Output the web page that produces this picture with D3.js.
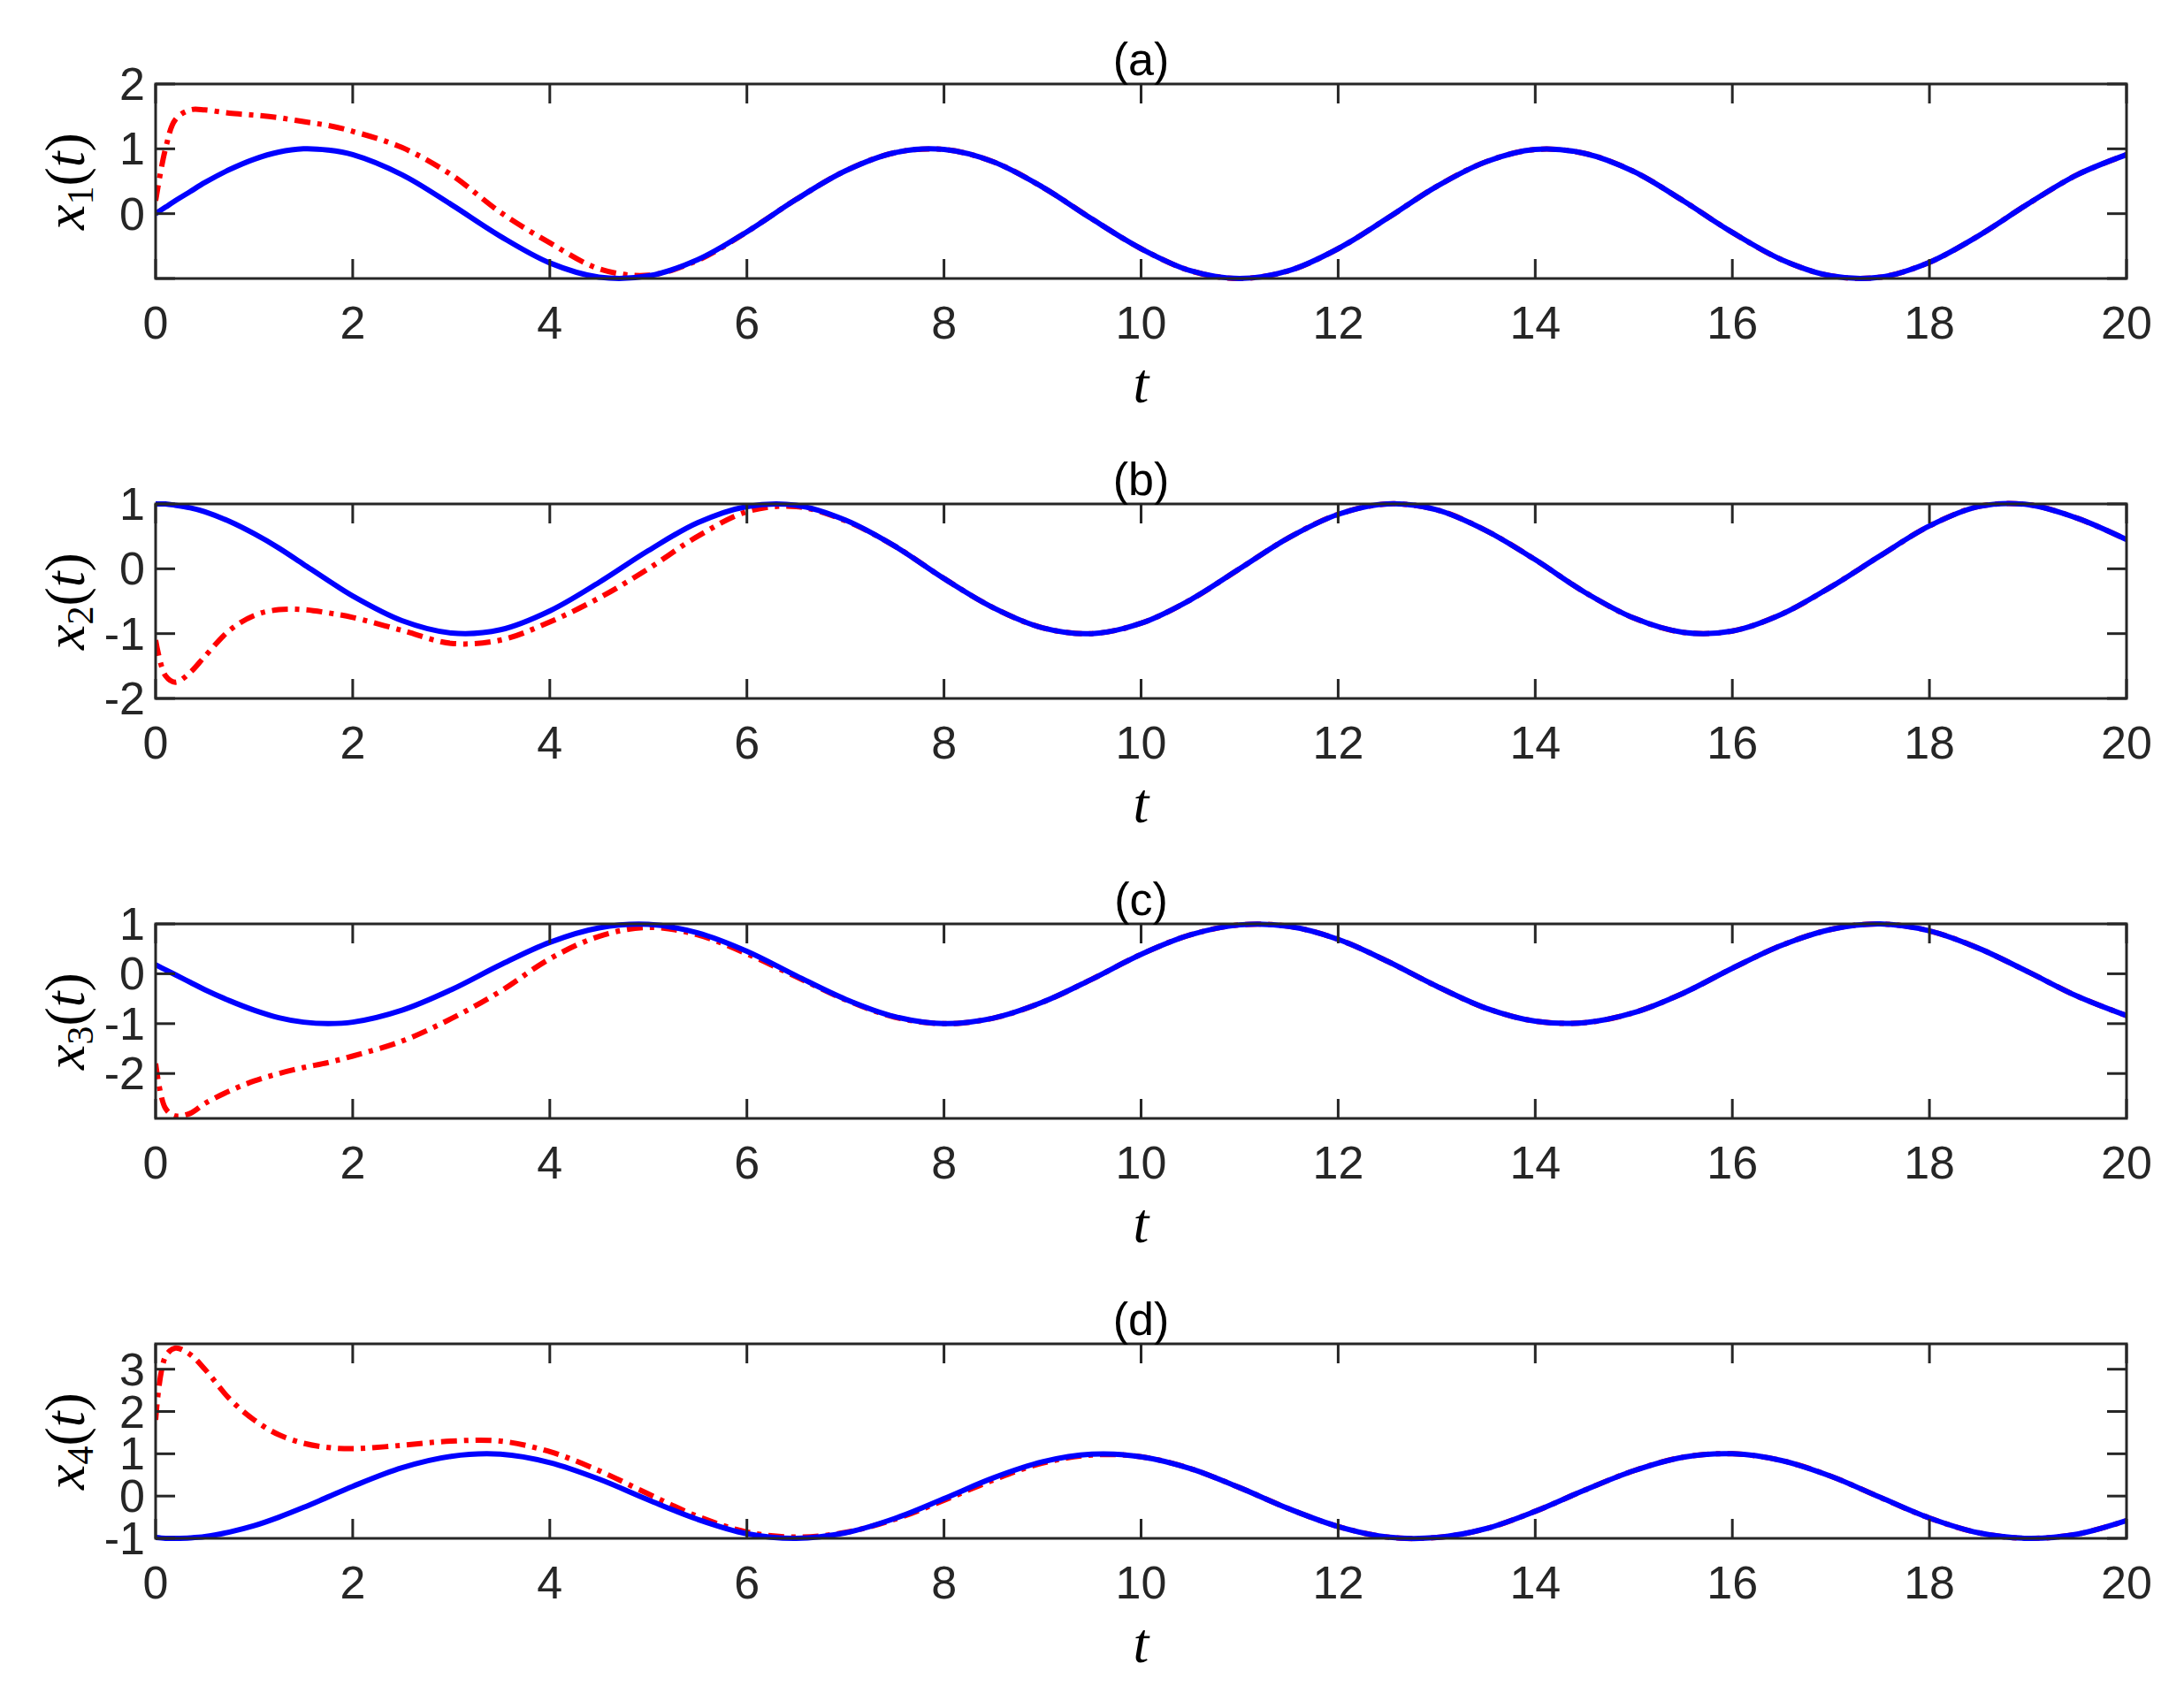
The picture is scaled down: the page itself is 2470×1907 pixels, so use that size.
<!DOCTYPE html>
<html><head><meta charset="utf-8">
<script src="https://cdn.jsdelivr.net/npm/d3@7"></script>
<style>body{margin:0;background:#fff}</style></head>
<body><svg id="c" width="2470" height="1907"></svg>
<script>
const T = [0,0.1,0.2,0.35,0.5,0.75,1,1.25,1.5,1.75,2,2.5,3,3.5,4,4.5,5,5.5,6,6.5,7,7.5,8,8.5,9,9.5,10,10.5,11,11.5,12,12.5,13,13.5,14,14.5,15,15.5,16,16.5,17,17.5,18,18.5,19,19.5,20];
const blueA = [0,0.10,0.20,0.34,0.48,0.68,0.84,0.95,1.00,0.98,0.91,0.60,0.14,-0.35,-0.76,-0.98,-0.96,-0.71,-0.28,0.22,0.66,0.94,0.99,0.80,0.41,-0.08,-0.54,-0.88,-1.00,-0.88,-0.54,-0.07,0.42,0.80,0.99,0.93,0.65,0.20,-0.29,-0.71,-0.96,-0.98,-0.75,-0.34,0.15,0.60,0.91];
const blueB = [1,1.00,0.98,0.94,0.88,0.73,0.54,0.32,0.07,-0.18,-0.42,-0.80,-0.99,-0.94,-0.65,-0.21,0.28,0.71,0.96,0.98,0.75,0.35,-0.15,-0.60,-0.91,-1.00,-0.84,-0.48,0.00,0.48,0.84,1.00,0.91,0.59,0.14,-0.36,-0.76,-0.98,-0.96,-0.70,-0.28,0.20,0.66,0.96,0.99,0.78,0.45];
const blueC = [0.18,0.08,-0.02,-0.17,-0.32,-0.54,-0.73,-0.88,-0.97,-1,-0.97,-0.73,-0.32,0.18,0.63,0.92,0.99,0.82,0.45,-0.04,-0.51,-0.86,-1.00,-0.89,-0.57,-0.11,0.39,0.78,0.98,0.95,0.69,0.25,-0.25,-0.69,-0.95,-0.98,-0.78,-0.39,0.11,0.57,0.89,1.00,0.86,0.51,0.04,-0.45,-0.84];
const blueD = [-0.98,-1.00,-1,-0.99,-0.96,-0.85,-0.70,-0.50,-0.27,-0.02,0.23,0.67,0.94,0.99,0.79,0.40,-0.09,-0.55,-0.89,-1.00,-0.87,-0.53,-0.06,0.43,0.81,0.99,0.93,0.65,0.20,-0.30,-0.72,-0.97,-0.98,-0.77,-0.36,0.14,0.60,0.92,1.00,0.84,0.47,-0.03,-0.52,-0.87,-1.00,-0.90,-0.58];
const redAHead = [0.2,1.0,1.45,1.6,1.6,1.55,1.52,1.48,1.42,1.36,1.27,1.02,0.6,0.02,-0.45,-0.85,-0.95,-0.72,-0.28];
const redBHead = [-1.1,-1.65,-1.75,-1.6,-1.35,-0.95,-0.72,-0.63,-0.63,-0.68,-0.75,-0.95,-1.15,-1.1,-0.82,-0.45,0.0,0.5,0.88,0.96,0.74];
const redCHead = [-1.8,-2.7,-2.85,-2.8,-2.6,-2.35,-2.15,-2.0,-1.88,-1.78,-1.65,-1.35,-0.9,-0.35,0.3,0.75,0.93,0.78,0.4,-0.06,-0.52,-0.87];
const redDHead = [1.8,3.3,3.5,3.35,3.0,2.3,1.8,1.45,1.25,1.15,1.12,1.2,1.3,1.3,1.05,0.6,0.05,-0.48,-0.85,-0.97,-0.86,-0.55,-0.1,0.38,0.78,0.97];
const xTicks = [0,2,4,6,8,10,12,14,16,18,20];
const panels = [
  {title:"(a)", sub:"1", blue:blueA, red:redAHead, dom:[-1,2], ticks:[-1,0,1,2], labels:["","0","1","2"]},
  {title:"(b)", sub:"2", blue:blueB, red:redBHead, dom:[-2,1], ticks:[-2,-1,0,1], labels:["-2","-1","0","1"]},
  {title:"(c)", sub:"3", blue:blueC, red:redCHead, dom:[-2.9,1], ticks:[-2,-1,0,1], labels:["-2","-1","0","1"]},
  {title:"(d)", sub:"4", blue:blueD, red:redDHead, dom:[-1,3.6], ticks:[-1,0,1,2,3], labels:["-1","0","1","2","3"]}
];
const svg = d3.select("#c");
const L=176, R=2405, H=220, tops=[95,570,1045,1520];
const x = d3.scaleLinear().domain([0,20]).range([L,R]);
panels.forEach((p,i)=>{
  const top=tops[i], bot=top+H;
  const y = d3.scaleLinear().domain(p.dom).range([bot,top]);
  const g = svg.append("g");
  const red = p.red.concat(p.blue.slice(p.red.length));
  const clipId="clip"+i;
  g.append("clipPath").attr("id",clipId).append("rect").attr("x",L).attr("y",top-4).attr("width",R-L).attr("height",H+8);
  const line = d3.line().x((d,k)=>x(T[k])).y(d=>y(d)).curve(d3.curveCatmullRom);
  g.append("path").datum(red).attr("d",line).attr("fill","none").attr("stroke","#ff0000").attr("stroke-width",6).attr("stroke-dasharray","18,8,5,8").attr("clip-path",`url(#${clipId})`);
  g.append("path").datum(p.blue).attr("d",line).attr("fill","none").attr("stroke","#0000ff").attr("stroke-width",6).attr("clip-path",`url(#${clipId})`);
  const ax = "#262626", tl=22;
  g.append("rect").attr("x",L).attr("y",top).attr("width",R-L).attr("height",H).attr("fill","none").attr("stroke",ax).attr("stroke-width",3);
  xTicks.forEach(v=>{
    g.append("line").attr("x1",x(v)).attr("x2",x(v)).attr("y1",bot).attr("y2",bot-tl).attr("stroke",ax).attr("stroke-width",3);
    g.append("line").attr("x1",x(v)).attr("x2",x(v)).attr("y1",top).attr("y2",top+tl).attr("stroke",ax).attr("stroke-width",3);
    g.append("text").attr("x",x(v)).attr("y",bot+68).attr("text-anchor","middle").attr("font-family","Liberation Sans, Arial, sans-serif").attr("font-size",52).attr("fill","#262626").text(v);
  });
  p.ticks.forEach((v,k)=>{
    g.append("line").attr("x1",L).attr("x2",L+tl).attr("y1",y(v)).attr("y2",y(v)).attr("stroke",ax).attr("stroke-width",3);
    g.append("line").attr("x1",R).attr("x2",R-tl).attr("y1",y(v)).attr("y2",y(v)).attr("stroke",ax).attr("stroke-width",3);
    g.append("text").attr("x",L-12).attr("y",y(v)+18).attr("text-anchor","end").attr("font-family","Liberation Sans, Arial, sans-serif").attr("font-size",52).attr("fill","#262626").text(p.labels[k]);
  });
  g.append("text").attr("x",(L+R)/2).attr("y",top-10).attr("text-anchor","middle").attr("font-family","Liberation Sans, Arial, sans-serif").attr("font-size",52).attr("fill","#000").text(p.title);
  g.append("text").attr("x",(L+R)/2).attr("y",bot+140).attr("text-anchor","middle").attr("font-family","Liberation Serif, DejaVu Serif, serif").attr("font-style","italic").attr("font-size",64).attr("fill","#000").text("t");
  const yl = g.append("text").attr("transform",`translate(95,${(top+bot)/2}) rotate(-90)`).attr("text-anchor","middle").attr("font-family","Liberation Serif, DejaVu Serif, serif").attr("font-size",64).attr("fill","#000");
  yl.append("tspan").attr("font-style","italic").text("x");
  yl.append("tspan").attr("font-size",42).attr("dy",10).text(p.sub);
  yl.append("tspan").attr("dy",-10).text("(");
  yl.append("tspan").attr("font-style","italic").text("t");
  yl.append("tspan").text(")");
});
</script></body></html>
